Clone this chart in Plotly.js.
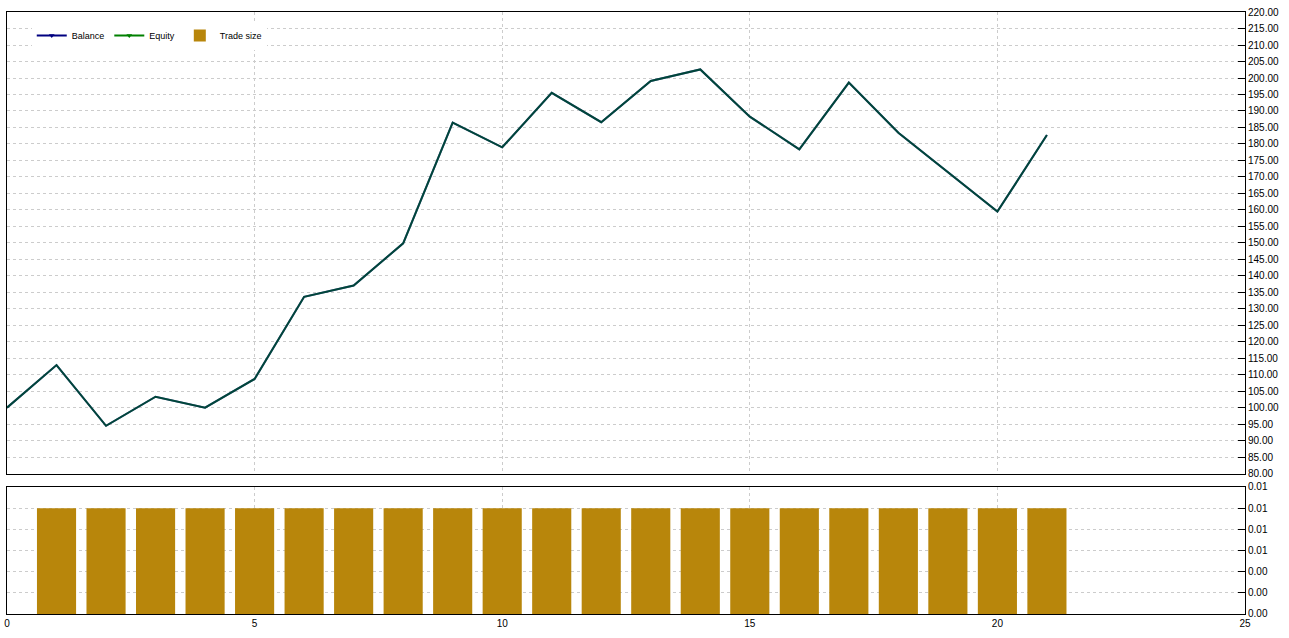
<!DOCTYPE html>
<html>
<head>
<meta charset="utf-8">
<script src="https://cdn.plot.ly/plotly-3.0.1.min.js"></script>
<style>
  html, body { margin: 0; padding: 0; background: #ffffff; }
  #chart { width: 1289px; height: 638px; }
</style>
</head>
<body>
<div id="chart"></div>
<script>
  // Trade numbers and account curve
  var tradeIndex = [0, 1, 2, 3, 4, 5, 6, 7, 8, 9, 10, 11, 12, 13, 14, 15, 16, 17, 18, 19, 20, 21];
  var balance = [100.1, 113.0, 94.6, 103.4, 100.1, 108.8, 133.7, 137.1, 149.9, 186.5, 179.0,
    195.5, 186.6, 199.1, 202.6, 188.3, 178.4, 198.6, 183.4, 171.5, 159.5, 182.7];
  var equity = balance.slice();
  var tradeNumbers = [1, 2, 3, 4, 5, 6, 7, 8, 9, 10, 11, 12, 13, 14, 15, 16, 17, 18, 19, 20, 21];
  var tradeSize = [0.01, 0.01, 0.01, 0.01, 0.01, 0.01, 0.01, 0.01, 0.01, 0.01, 0.01,
    0.01, 0.01, 0.01, 0.01, 0.01, 0.01, 0.01, 0.01, 0.01, 0.01];

  var fontFamily = '"Liberation Sans", Arial, sans-serif';
  var gridColor = '#cccccc';

  var axisCommon = {
    showgrid: true,
    gridcolor: gridColor,
    griddash: 'dot',
    gridwidth: 1,
    zeroline: false,
    showline: true,
    linecolor: '#000000',
    linewidth: 1,
    mirror: true,
    tickfont: { family: fontFamily, size: 10, color: '#000000' },
  };

  var traces = [
    {
      x: tradeIndex,
      y: balance,
      name: 'Balance',
      type: 'scatter',
      mode: 'lines',
      line: { color: '#000080', width: 2 },
      showlegend: false,
      xaxis: 'x',
      yaxis: 'y',
    },
    {
      x: tradeIndex,
      y: equity,
      name: 'Equity',
      type: 'scatter',
      mode: 'lines',
      opacity: 0.55,
      line: { color: '#008000', width: 2 },
      showlegend: false,
      xaxis: 'x',
      yaxis: 'y',
    },
    // legend-only entries so the key shows the full colours
    {
      x: [null],
      y: [null],
      name: 'Balance',
      type: 'scatter',
      mode: 'lines+markers',
      line: { color: '#000080', width: 2 },
      marker: { color: '#000080', size: 5, symbol: 'triangle-down' },
      xaxis: 'x',
      yaxis: 'y',
    },
    {
      x: [null],
      y: [null],
      name: 'Equity',
      type: 'scatter',
      mode: 'lines+markers',
      line: { color: '#008000', width: 2 },
      marker: { color: '#008000', size: 5, symbol: 'triangle-down' },
      xaxis: 'x',
      yaxis: 'y',
    },
    {
      x: tradeNumbers,
      y: tradeSize,
      name: 'Trade size',
      type: 'bar',
      width: 0.79,
      marker: { color: '#b8860b', line: { width: 0 } },
      xaxis: 'x2',
      yaxis: 'y2',
    },
  ];

  var layout = {
    width: 1289,
    height: 638,
    font: { family: fontFamily, size: 10, color: '#000000' },
    paper_bgcolor: '#ffffff',
    plot_bgcolor: '#ffffff',
    margin: { t: 12, r: 44, b: 24, l: 7 },
    showlegend: true,
    legend: {
      orientation: 'h',
      x: 0.02,
      y: 0.985,
      xanchor: 'left',
      yanchor: 'top',
      bgcolor: '#ffffff',
      font: { family: fontFamily, size: 9, color: '#000000' },
      itemwidth: 30,
      traceorder: 'normal',
    },
    xaxis: Object.assign({}, axisCommon, {
      domain: [0, 1],
      anchor: 'y',
      range: [0, 25],
      dtick: 5,
      showticklabels: false,
      ticks: '',
      matches: 'x2',
    }),
    yaxis: Object.assign({}, axisCommon, {
      domain: [0.2326, 1],
      anchor: 'x',
      side: 'right',
      range: [80, 220],
      dtick: 5,
      tickformat: '.2f',
      ticks: 'inside',
      ticklen: 7,
      tickcolor: '#000000',
    }),
    xaxis2: Object.assign({}, axisCommon, {
      domain: [0, 1],
      anchor: 'y2',
      range: [0, 25],
      dtick: 5,
      ticks: '',
    }),
    yaxis2: Object.assign({}, axisCommon, {
      domain: [0, 0.211],
      anchor: 'x2',
      side: 'right',
      range: [0, 0.012],
      dtick: 0.002,
      tickformat: '.2f',
      ticks: 'inside',
      ticklen: 7,
      tickcolor: '#000000',
    }),
  };

  Plotly.newPlot('chart', traces, layout, { displayModeBar: false, staticPlot: true });
</script>
</body>
</html>
